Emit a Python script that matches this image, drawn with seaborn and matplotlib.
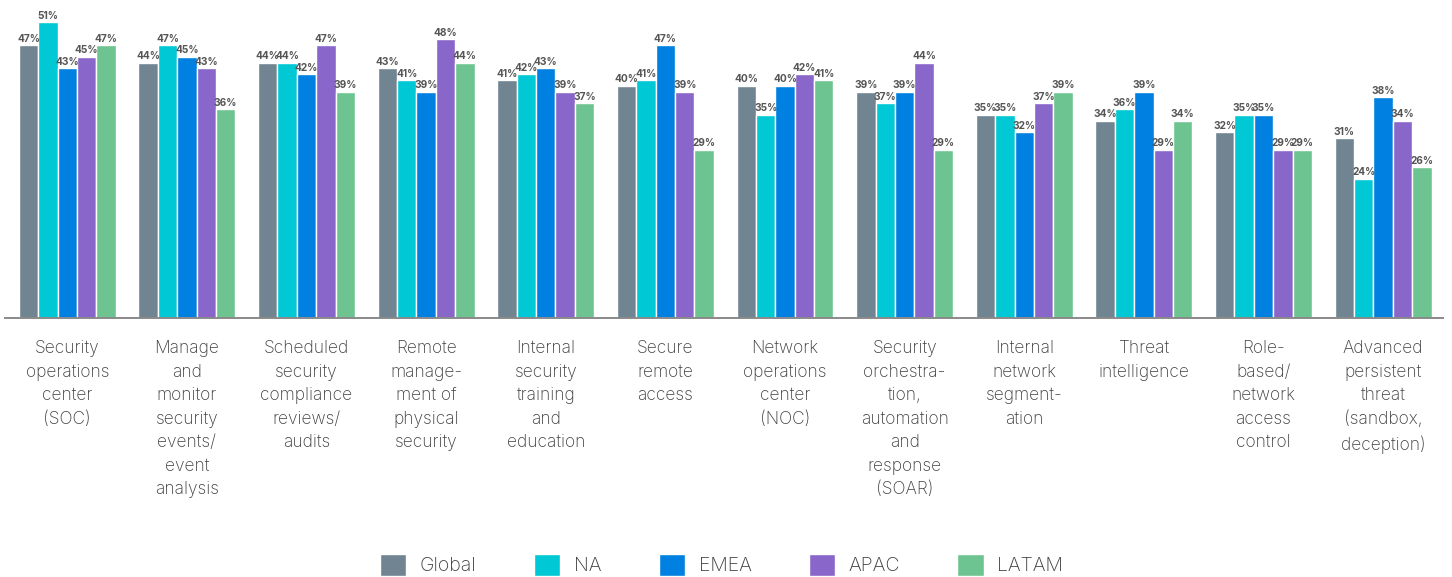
import matplotlib
matplotlib.use("Agg")
import matplotlib.pyplot as plt
import seaborn as sns
import pandas as pd

categories = [
    "Security\noperations\ncenter\n(SOC)",
    "Manage\nand\nmonitor\nsecurity\nevents/\nevent\nanalysis",
    "Scheduled\nsecurity\ncompliance\nreviews/\naudits",
    "Remote\nmanage-\nment of\nphysical\nsecurity",
    "Internal\nsecurity\ntraining\nand\neducation",
    "Secure\nremote\naccess",
    "Network\noperations\ncenter\n(NOC)",
    "Security\norchestra-\ntion,\nautomation\nand\nresponse\n(SOAR)",
    "Internal\nnetwork\nsegment-\nation",
    "Threat\nintelligence",
    "Role-\nbased/\nnetwork\naccess\ncontrol",
    "Advanced\npersistent\nthreat\n(sandbox,\ndeception)",
]
regions = ["Global", "NA", "EMEA", "APAC", "LATAM"]
global_vals = [47, 44, 44, 43, 41, 40, 40, 39, 35, 34, 32, 31]
na_vals = [51, 47, 44, 41, 42, 41, 35, 37, 35, 36, 35, 24]
emea_vals = [43, 45, 42, 39, 43, 47, 40, 39, 32, 39, 35, 38]
apac_vals = [45, 43, 47, 48, 39, 39, 42, 44, 37, 29, 29, 34]
latam_vals = [47, 36, 39, 44, 37, 29, 41, 29, 39, 34, 29, 26]
palette = ["#718491", "#00C8D4", "#0080E0", "#8966C9", "#6EC491"]

series = [global_vals, na_vals, emea_vals, apac_vals, latam_vals]
df = pd.DataFrame(
    [(c, r, v) for r, vals in zip(regions, series) for c, v in zip(categories, vals)],
    columns=["category", "region", "value"],
)

sns.set_theme(style="white")
plt.rcParams["font.family"] = ["Inter", "DejaVu Sans"]

fig = plt.figure(figsize=(14.52, 5.77), dpi=100)
ax = fig.add_axes([0.0035, 0.449, 0.9903, 0.551])

sns.barplot(
    data=df, x="category", y="value", hue="region",
    hue_order=regions, palette=palette, width=0.81,
    saturation=1, ax=ax, legend=True,
)

for container in ax.containers:
    ax.bar_label(
        container, labels=[f"{v:.0f}%" for v in container.datavalues],
        padding=1, fontsize=7.3, fontweight="bold", color="#555555",
    )

ax.set_ylim(0, 54.8)
ax.set_xlim(-0.52, 11.5)
ax.set_xlabel("")
ax.set_ylabel("")
ax.set_yticks([])
for side in ["top", "right", "left"]:
    ax.spines[side].set_visible(False)
ax.spines["bottom"].set_color("#8a8a8a")
ax.spines["bottom"].set_linewidth(1.4)
ax.tick_params(axis="x", length=0, pad=16, labelsize=12.5, labelcolor="#3f3f3f")
for lbl in ax.get_xticklabels():
    lbl.set_linespacing(1.5)
    lbl.set_verticalalignment("top")
    lbl.set_fontweight("light")

handles, labels = ax.get_legend_handles_labels()
ax.legend_.remove()
leg = fig.legend(
    handles, labels, loc="lower center", bbox_to_anchor=(0.497, -0.028),
    ncol=5, frameon=False, fontsize=14, handlelength=1.35, handleheight=1.35,
    columnspacing=2.95, handletextpad=0.7, labelcolor="#3f3f3f",
)
for t in leg.get_texts():
    t.set_fontweight("light")

fig.savefig("out.png", dpi=100)
